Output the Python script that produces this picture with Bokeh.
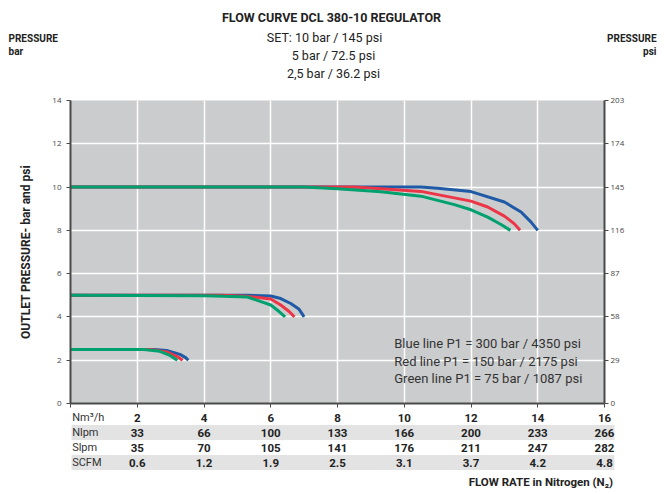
from bokeh.plotting import figure
from bokeh.models import Range1d, LinearAxis, FixedTicker
from bokeh.layouts import column
from bokeh.core.properties import value
from bokeh.embed import file_html
from bokeh.resources import INLINE

# ---------------- data ----------------
flow_ticks = [2, 4, 6, 8, 10, 12, 14, 16]
nm3h = ["2", "4", "6", "8", "10", "12", "14", "16"]
nlpm = ["33", "66", "100", "133", "166", "200", "233", "266"]
slpm = ["35", "70", "105", "141", "176", "211", "247", "282"]
scfm = ["0.6", "1.2", "1.9", "2.5", "3.1", "3.7", "4.2", "4.8"]
row_names = ["Nm³/h", "Nlpm", "Slpm", "SCFM"]
bar_ticks = [0, 2, 4, 6, 8, 10, 12, 14]
psi_ticks = [0, 29, 58, 87, 116, 145, 174, 203]

# set 10 bar
blue10_x = [0, 10, 10.5, 11, 12, 13, 13.5, 13.8, 14.0]
blue10_y = [10, 10, 10.0, 9.95, 9.79, 9.31, 8.85, 8.38, 8.0]
red10_x = [0, 8.5, 9.3, 10.5, 12, 12.5, 13, 13.3, 13.47]
red10_y = [10, 10, 9.92, 9.8, 9.35, 9.08, 8.66, 8.3, 8.0]
green10_x = [0, 7, 8, 9.3, 10.5, 11.5, 12, 12.5, 12.9, 13.18]
green10_y = [10, 10, 9.92, 9.78, 9.58, 9.19, 8.95, 8.61, 8.27, 8.0]
# set 5 bar
blue5_x = [0, 5.3, 6.0, 6.3, 6.6, 6.85, 7.0]
blue5_y = [5, 5, 4.97, 4.85, 4.62, 4.35, 4.0]
red5_x = [0, 4.5, 5.3, 6.0, 6.3, 6.55, 6.71]
red5_y = [5, 5, 4.95, 4.83, 4.55, 4.25, 4.0]
green5_x = [0, 4.0, 4.6, 5.3, 6.0, 6.25, 6.43]
green5_y = [5, 4.98, 4.95, 4.92, 4.55, 4.25, 4.0]
# set 2.5 bar
blue25_x = [0, 2.5, 2.88, 3.28, 3.45, 3.53]
blue25_y = [2.5, 2.5, 2.45, 2.27, 2.12, 2.0]
red25_x = [0, 2.4, 2.88, 3.18, 3.36]
red25_y = [2.5, 2.5, 2.38, 2.18, 2.0]
green25_x = [0, 2.2, 2.68, 2.98, 3.2]
green25_y = [2.5, 2.49, 2.41, 2.22, 2.0]

title = "FLOW CURVE DCL 380-10 REGULATOR"
set_lines = ["SET: 10 bar / 145 psi", "5 bar / 72.5 psi", "2,5 bar / 36.2 psi"]
legend_lines = ["Blue line P1 = 300 bar / 4350 psi",
                "Red line P1 = 150 bar / 2175 psi",
                "Green line P1 = 75 bar / 1087 psi"]
flow_title = "FLOW RATE in Nitrogen (N₂)"

# ---------------- style / layout ----------------
FONT = "Roboto"
TICKF = "Open Sans"
BLUE, RED, GREEN = "#1f5aa6", "#ec3546", "#00a06f"
AX = "#4a4a4a"

W = 664
H1 = 90            # header strip
H2 = 321           # chart
H3 = 81            # flow table
ML, MR, MT, MB = 70, 60, 10, 8
FW = W - ML - MR
FH = H2 - MT - MB
XMAX = 16.0
PX = FW / XMAX     # pixels per flow unit


def txt(fig, x, y, t, size, style="normal", align="left", color="#222222", font=FONT):
    fig.text(x=x, y=y, text=t, text_font=value(font), text_font_size=size,
             text_font_style=style, text_align=align, text_baseline="middle",
             text_color=color)


# ---- header ----
hdr = figure(width=W, height=H1, output_backend="svg", toolbar_location=None,
             x_range=Range1d(0, W), y_range=Range1d(H1, 0),
             x_axis_type=None, y_axis_type=None, min_border=0,
             outline_line_color=None, background_fill_color="white",
             frame_align=False)
txt(hdr, [331], [17], [title], "12.5px", "bold", "center")
txt(hdr, [324], [37], [set_lines[0]], "12.5px", "normal", "center")
txt(hdr, [333], [55], [set_lines[1]], "12.5px", "normal", "center")
txt(hdr, [333], [73], [set_lines[2]], "12.5px", "normal", "center")
txt(hdr, [8, 8], [38, 51], ["PRESSURE", "bar"], "10px", "bold", "left")
txt(hdr, [656, 656], [38, 51], ["PRESSURE", "psi"], "10px", "bold", "right")

# ---- chart ----
p = figure(width=W, height=H2, output_backend="svg", toolbar_location=None,
           x_range=Range1d(0, XMAX), y_range=Range1d(0, 14),
           min_border_left=ML, min_border_right=MR, min_border_top=MT,
           min_border_bottom=MB, background_fill_color="#cbcccd",
           border_fill_color="white", outline_line_color=None,
           frame_align=False)
p.extra_y_ranges = {"psi": Range1d(0, 203)}

p.xgrid.ticker = FixedTicker(ticks=flow_ticks[:-1])
p.ygrid.ticker = FixedTicker(ticks=bar_ticks[1:-1])
p.grid.grid_line_color = "white"
p.grid.grid_line_width = 1.5

ya = p.yaxis[0]
ya.ticker = FixedTicker(ticks=bar_ticks)
ya.axis_line_color = AX
ya.axis_line_width = 2
ya.major_tick_line_color = AX
ya.major_tick_out = 4
ya.major_tick_in = 0
ya.minor_tick_line_color = None
ya.major_label_standoff = 5
ya.major_label_text_font = TICKF
ya.major_label_text_font_size = "8px"
ya.major_label_text_color = "#444444"
ya.axis_label = "OUTLET PRESSURE- bar and psi"
ya.axis_label_text_font = FONT
ya.axis_label_text_font_style = "bold"
ya.axis_label_text_font_size = "12px"
ya.axis_label_text_color = "#222222"
ya.axis_label_standoff = 16

ra = LinearAxis(y_range_name="psi", ticker=FixedTicker(ticks=psi_ticks))
ra.axis_line_color = AX
ra.axis_line_width = 2
ra.major_tick_line_color = AX
ra.major_tick_out = 4
ra.major_tick_in = 0
ra.minor_tick_line_color = None
ra.major_label_standoff = 2
ra.major_label_text_font = TICKF
ra.major_label_text_font_size = "8px"
ra.major_label_text_color = "#444444"
p.add_layout(ra, "right")

xa = p.xaxis[0]
xa.ticker = FixedTicker(ticks=[0] + flow_ticks)
xa.axis_line_color = AX
xa.axis_line_width = 2
xa.major_tick_line_color = AX
xa.major_tick_out = 4
xa.major_tick_in = 0
xa.minor_tick_line_color = None
xa.major_label_standoff = 0
xa.major_label_text_font_size = "0px"
xa.major_label_overrides = {t: "" for t in [0] + flow_ticks}

for xs, ys, c in [(blue10_x, blue10_y, BLUE), (red10_x, red10_y, RED), (green10_x, green10_y, GREEN),
                  (blue5_x, blue5_y, BLUE), (red5_x, red5_y, RED), (green5_x, green5_y, GREEN),
                  (blue25_x, blue25_y, BLUE), (red25_x, red25_y, RED), (green25_x, green25_y, GREEN)]:
    p.line(xs, ys, line_color=c, line_width=3)

for i, t in enumerate(legend_lines):
    p.text(x=[9.7], y=[2.75 - 0.79 * i], text=[t], text_font=value(FONT),
           text_font_size="13px", text_align="left", text_baseline="middle",
           text_color="#333333")

# ---- flow table (x scale aligned with the chart frame) ----
x0 = -ML / PX
x1 = XMAX + MR / PX
tbl = figure(width=W, height=H3, output_backend="svg", toolbar_location=None,
             x_range=Range1d(x0, x1), y_range=Range1d(H3, 0),
             x_axis_type=None, y_axis_type=None, min_border=0,
             outline_line_color=None, background_fill_color="white",
             frame_align=False)
row_y = [6, 21, 36, 51]          # row centre lines (pixels from top of strip)
shade_rows = [1, 3]
tbl.quad(left=[0.03] * len(shade_rows), right=[XMAX + 10.0 / PX] * len(shade_rows),
         top=[row_y[r] - 7.5 for r in shade_rows], bottom=[row_y[r] + 7.5 for r in shade_rows],
         fill_color="#e3e3e4", line_color=None)
for r, vals in enumerate([nm3h, nlpm, slpm, scfm]):
    txt(tbl, flow_ticks, [row_y[r]] * len(flow_ticks), vals, "11.5px", "bold", "center")
txt(tbl, [0.05] * 4, row_y, row_names, "11px", "normal", "left", "#333333")
txt(tbl, [XMAX + 8.5 / PX], [70], [flow_title], "11.5px", "bold", "right")

layout = column(hdr, p, tbl, spacing=0)
open("out.html", "w").write(file_html(layout, INLINE))
